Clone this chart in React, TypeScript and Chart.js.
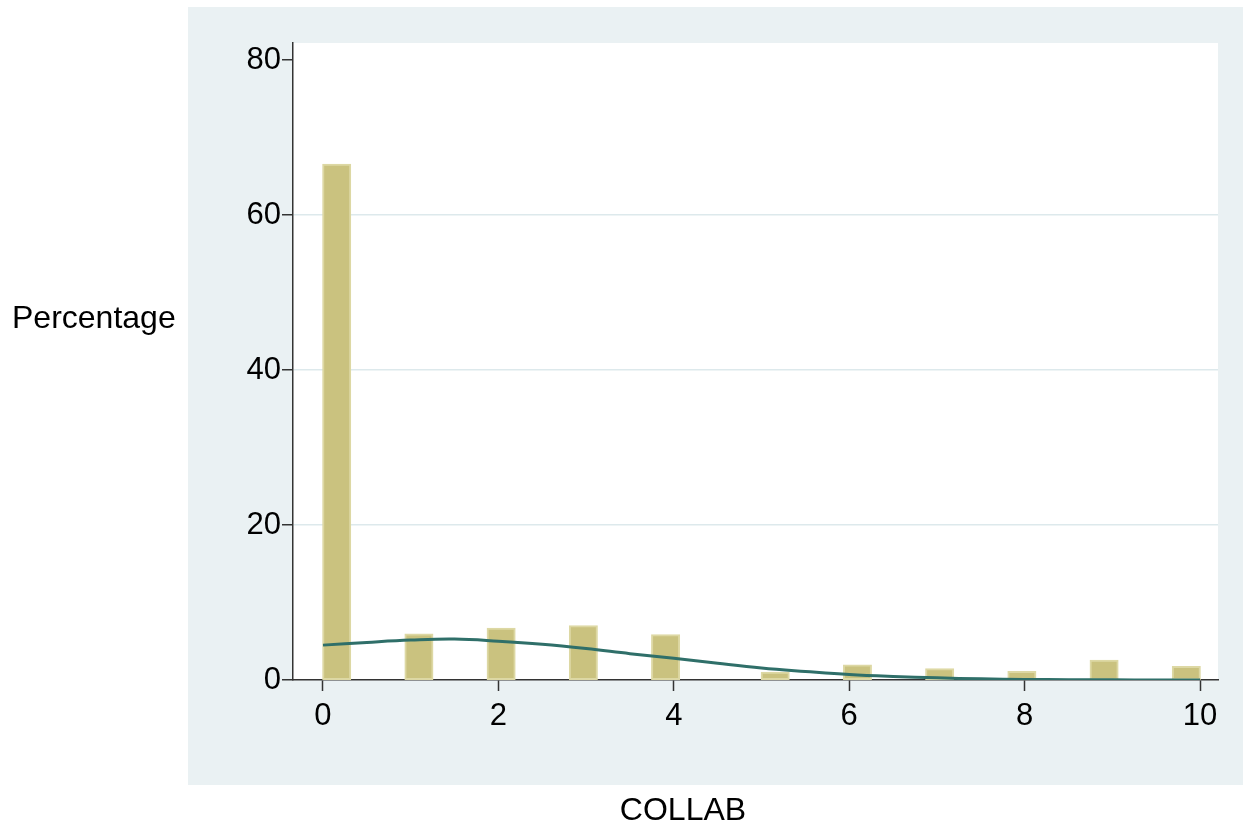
import React, { useEffect, useRef } from "react";
import { Chart, registerables } from "chart.js";

Chart.register(...registerables);

// ---- data ----
const collabValues = [0, 1, 2, 3, 4, 5, 6, 7, 8, 9, 10];
const percentages = [66.5, 5.9, 6.65, 6.95, 5.8, 0.95, 1.9, 1.4, 1.05, 2.5, 1.7];
const binCount = 32;
const xMin = -0.342;
const xMax = 10.205;
const yMax = 82.2;
const xTicks = [0, 2, 4, 6, 8, 10];
const yTicks = [0, 20, 40, 60, 80];
const yGridTicks = [20, 40, 60];
// normal density overlay
const curveX = [0, 0.5, 1, 1.5, 2, 2.5, 3, 3.5, 4, 4.5, 5, 5.5, 6, 6.5, 7, 7.5, 8, 8.5, 9, 9.5, 10];
const curveY = [4.5, 4.85, 5.15, 5.28, 5.0, 4.6, 4.05, 3.4, 2.8, 2.15, 1.55, 1.1, 0.7, 0.45, 0.28, 0.15, 0.08, 0.04, 0.02, 0.01, 0.0];
const xTitle = "COLLAB";
const yTitle = "Percentage";

const FONT = "'Liberation Sans', Arial, Helvetica, sans-serif";
const BG = "#eaf1f3";
const GRID = "#dde9ec";
const AXIS = "#333333";

export default function App() {
  const ref = useRef<HTMLCanvasElement | null>(null);

  useEffect(() => {
    if (!ref.current) return;
    const binWidth = (collabValues[collabValues.length - 1] - collabValues[0]) / binCount;
    const bins: (number | null)[] = new Array(binCount).fill(null);
    collabValues.forEach((v, i) => {
      const idx = Math.min(Math.floor((v - collabValues[0]) / binWidth + 1e-9), binCount - 1);
      bins[idx] = percentages[i];
    });
    const barData = bins.map((p, k) => ({ x: collabValues[0] + (k + 0.5) * binWidth, y: p }));
    const lineData = curveX.map((x, i) => ({ x, y: curveY[i] }));

    const bgPlugin = {
      id: "bg",
      beforeDraw(chart: any) {
        const { ctx, chartArea, width } = chart;
        ctx.save();
        const l = chartArea.left - 105;
        const t = chartArea.top - 36;
        const b = chartArea.bottom + 105;
        ctx.fillStyle = BG;
        ctx.fillRect(l, t, width - l, b - t);
        ctx.fillStyle = "#ffffff";
        ctx.fillRect(chartArea.left, chartArea.top, chartArea.right - chartArea.left, chartArea.bottom - chartArea.top);
        ctx.restore();
      },
      afterDraw(chart: any) {
        const { ctx, chartArea } = chart;
        ctx.save();
        ctx.fillStyle = "#000";
        ctx.font = `32px ${FONT}`;
        ctx.textBaseline = "middle";
        ctx.textAlign = "left";
        ctx.fillText(yTitle, 12, chartArea.top + 276);
        ctx.textAlign = "center";
        ctx.fillText(xTitle, chartArea.left + 390, chartArea.bottom + 131);
        ctx.restore();
      },
    };

    const chart = new Chart(ref.current, {
      type: "bar",
      data: {
        datasets: [
          {
            type: "line",
            data: lineData,
            borderColor: "#2f6f69",
            borderWidth: 3,
            pointRadius: 0,
            tension: 0.4,
            fill: false,
            order: 0,
          } as any,
          {
            type: "bar",
            data: barData as any,
            backgroundColor: "#cac27f",
            borderColor: "#ddd8a4",
            borderWidth: 2,
            borderSkipped: false,
            barPercentage: 1,
            categoryPercentage: 1,
            inflateAmount: 0.8,
            order: 1,
          } as any,
        ],
      },
      options: {
        responsive: false,
        animation: false,
        events: [],
        layout: { padding: { left: 188, top: 43, right: 25, bottom: 0 } },
        plugins: { legend: { display: false }, tooltip: { enabled: false }, title: { display: false } },
        scales: {
          x: {
            type: "linear",
            min: xMin,
            max: xMax,
            offset: false,
            afterFit: (s: any) => { s.height = 153; },
            afterBuildTicks: (s: any) => { s.ticks = xTicks.map((v) => ({ value: v })); },
            grid: { drawOnChartArea: false, drawTicks: true, tickLength: 11, tickColor: AXIS, tickWidth: 1.5, offset: false },
            border: { display: true, color: AXIS, width: 1.5 },
            ticks: { color: "#000", font: { family: FONT, size: 31 }, padding: 7, maxRotation: 0, autoSkip: false },
          },
          y: {
            type: "linear",
            min: 0,
            max: yMax,
            afterFit: (s: any) => { s.width = 105; },
            afterBuildTicks: (s: any) => { s.ticks = yTicks.map((v) => ({ value: v })); },
            grid: {
              color: (c: any) => (yGridTicks.includes(c.tick?.value) ? GRID : "rgba(0,0,0,0)"),
              lineWidth: 1.5,
              drawTicks: true,
              tickLength: 11,
              tickColor: AXIS,
              tickWidth: 1.5,
            },
            border: { display: true, color: AXIS, width: 1.5 },
            ticks: { color: "#000", font: { family: FONT, size: 31 }, padding: 1, autoSkip: false },
          },
        },
      } as any,
      plugins: [bgPlugin],
    });
    return () => chart.destroy();
  }, []);

  return (
    <div style={{ position: "absolute", left: 0, top: 0, width: 1243, height: 833 }}>
      <canvas ref={ref} width={1243} height={833} style={{ display: "block" }} />
    </div>
  );
}
